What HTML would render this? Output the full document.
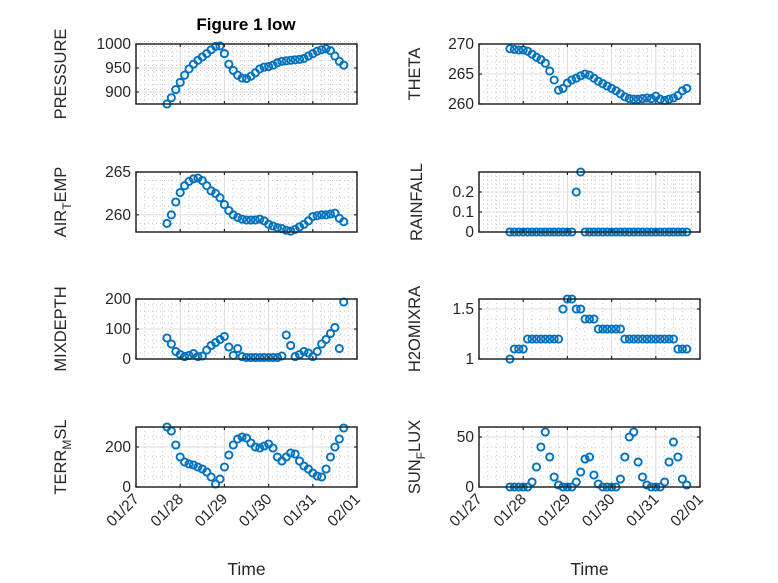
<!DOCTYPE html>
<html><head><meta charset="utf-8"><style>
html,body{margin:0;padding:0;background:#fff;}
svg{display:block;font-family:"Liberation Sans","DejaVu Sans",sans-serif;}
</style></head><body>
<svg id="fig" width="778" height="583" viewBox="0 0 778 583" xmlns="http://www.w3.org/2000/svg">
<rect width="778" height="583" fill="#fff"/>
<text x="246" y="30" font-size="17" font-weight="bold" text-anchor="middle" fill="#000">Figure 1 low</text>
</svg>
<script>
const times=[27.7,27.8,27.9,28.0,28.1,28.2,28.3,28.4,28.5,28.6,28.7,28.8,28.9,29.0,29.1,29.2,29.3,29.4,29.5,29.6,29.7,29.8,29.9,30.0,30.1,30.2,30.3,30.4,30.5,30.6,30.7,30.8,30.9,31.0,31.1,31.2,31.3,31.4,31.5,31.6,31.7];
const xTickLabels=["01/27","01/28","01/29","01/30","01/31","02/01"];
const xTickValues=[27,28,29,30,31,32];
const pressure=[875,888,905,920,935,948,958,966,973,980,988,995,996,980,958,945,935,929,928,933,940,948,952,953,956,961,964,965,966,967,968,970,975,980,985,988,990,986,975,964,956];
const theta=[269.2,269.1,269,269,268.8,268.3,267.8,267.4,266.8,265.5,264,262.3,262.6,263.5,264,264.3,264.7,265,264.8,264.3,263.8,263.4,263,262.6,262.2,261.7,261.2,260.9,260.8,260.8,260.9,261,260.9,261.3,260.8,260.6,260.8,261,261.4,262.2,262.6];
const airTemp=[259,260,261.5,262.6,263.4,263.9,264.2,264.3,264,263.4,262.8,262.5,262,261.2,260.5,260,259.7,259.5,259.4,259.4,259.4,259.5,259.3,258.9,258.7,258.5,258.4,258.2,258.1,258.3,258.6,258.9,259.3,259.8,259.9,260,260,260.1,260.2,259.6,259.2];
const rainfall=[0,0,0,0,0,0,0,0,0,0,0,0,0,0,0,0.2,0.3,0,0,0,0,0,0,0,0,0,0,0,0,0,0,0,0,0,0,0,0,0,0,0,0];
const mixDepth=[70,50,25,15,8,12,18,8,10,30,45,55,65,75,40,12,35,8,5,5,5,5,5,5,5,5,10,80,45,8,15,25,20,8,25,50,65,85,105,35,190];
const h2o=[1.0,1.1,1.1,1.1,1.2,1.2,1.2,1.2,1.2,1.2,1.2,1.2,1.5,1.6,1.6,1.5,1.5,1.4,1.4,1.4,1.3,1.3,1.3,1.3,1.3,1.3,1.2,1.2,1.2,1.2,1.2,1.2,1.2,1.2,1.2,1.2,1.2,1.2,1.1,1.1,1.1];
const terrain=[300,280,210,150,125,115,110,100,90,75,50,15,40,100,160,210,240,250,245,220,200,195,205,215,195,150,130,150,170,165,130,105,90,70,55,50,90,150,200,240,295];
const sunFlux=[0,0,0,0,0,5,20,40,55,30,10,2,0,0,0,5,15,28,30,12,3,0,0,0,0,8,30,50,55,25,10,2,0,0,0,5,25,45,30,8,2];

const NS="http://www.w3.org/2000/svg";
const svg=document.getElementById('fig');
function mk(tag,attrs,parent){const e=document.createElementNS(NS,tag);for(const k in attrs)e.setAttribute(k,attrs[k]);(parent||svg).appendChild(e);return e;}

const panels=[
 {name:'pressure',data:pressure,x:136,y:44,ymin:875,ymax:1000,ticks:[900,950,1000],minor:10,label:['PRESSURE'],showX:false,lo:70},
 {name:'theta',data:theta,x:479,y:44,ymin:260,ymax:270,ticks:[260,265,270],minor:1,label:['THETA'],showX:false,lo:59},
 {name:'air-temp',data:airTemp,x:136,y:172,ymin:258,ymax:265,ticks:[260,265],minor:1,label:['AIR','T','EMP'],showX:false,lo:70},
 {name:'rainfall',data:rainfall,x:479,y:172,ymin:0,ymax:0.3,ticks:[0,0.1,0.2],minor:0.02,label:['RAINFALL'],showX:false,lo:57},
 {name:'mixdepth',data:mixDepth,x:136,y:299,ymin:0,ymax:200,ticks:[0,100,200],minor:20,label:['MIXDEPTH'],showX:false,lo:70},
 {name:'h2omixra',data:h2o,x:479,y:299,ymin:1,ymax:1.6,ticks:[1,1.5],minor:0.1,label:['H2OMIXRA'],showX:false,lo:59},
 {name:'terr-msl',data:terrain,x:136,y:427,ymin:0,ymax:300,ticks:[0,200],minor:50,label:['TERR','M','SL'],showX:true,lo:70},
 {name:'sun-flux',data:sunFlux,x:479,y:427,ymin:0,ymax:60,ticks:[0,50],minor:10,label:['SUN','F','LUX'],showX:true,lo:59}
];
const W=221,H=60;

panels.forEach(p=>{
 const g=mk('g',{});
 
 
 const xs=v=>p.x+(v-27)/5*W;
 const ys=v=>p.y+H-(v-p.ymin)/(p.ymax-p.ymin)*H;
 for(let d=27;d<=32.001;d+=0.2){const X=xs(d);mk('line',{x1:X,x2:X,y1:p.y,y2:p.y+H,stroke:'#bbb','stroke-width':0.8,'stroke-dasharray':'1 3'},g);}
 const nm=Math.round((p.ymax-p.ymin)/p.minor);
 for(let i=0;i<=nm;i++){const Y=ys(p.ymin+i*p.minor);mk('line',{x1:p.x,x2:p.x+W,y1:Y,y2:Y,stroke:'#bbb','stroke-width':0.8,'stroke-dasharray':'1 3'},g);}
 xTickValues.forEach(v=>{const X=xs(v);mk('line',{x1:X,x2:X,y1:p.y,y2:p.y+H,stroke:'#dcdcdc','stroke-width':1},g);});
 p.ticks.forEach(v=>{const Y=ys(v);mk('line',{x1:p.x,x2:p.x+W,y1:Y,y2:Y,stroke:'#dcdcdc','stroke-width':1},g);});
 p.data.forEach((v,i)=>{
  const c=mk('circle',{cx:xs(times[i]),cy:ys(v),r:3.6,fill:'none',stroke:'#0072BD','stroke-width':1.9},g);
  
  
 });
 const b=mk('rect',{x:p.x,y:p.y,width:W,height:H,fill:'none',stroke:'#262626','stroke-width':1.5},g);
 
 
 xTickValues.forEach((v,i)=>{
  const X=xs(v);
  mk('line',{x1:X,x2:X,y1:p.y+H,y2:p.y+H-3,stroke:'#262626','stroke-width':1.2},g);
  mk('line',{x1:X,x2:X,y1:p.y,y2:p.y+3,stroke:'#262626','stroke-width':1.2},g);
  if(p.showX){
   const t=mk('text',{x:X+4,y:p.y+H+13,'font-size':15.5,fill:'#262626','text-anchor':'end',transform:`rotate(-45 ${X+4} ${p.y+H+13})`},g);
   t.textContent=xTickLabels[i];
   
   
  }
 });
 p.ticks.forEach(v=>{
  const Y=ys(v);
  mk('line',{x1:p.x,x2:p.x+3,y1:Y,y2:Y,stroke:'#262626','stroke-width':1.2},g);
  mk('line',{x1:p.x+W,x2:p.x+W-3,y1:Y,y2:Y,stroke:'#262626','stroke-width':1.2},g);
  const t=mk('text',{x:p.x-5,y:Y+5,'font-size':15.5,fill:'#262626','text-anchor':'end'},g);
  t.textContent=String(v);
  
  
 });
 const lx=p.x-p.lo, ly=p.y+H/2;
 const yl=mk('text',{x:lx,y:ly,'font-size':16.5,fill:'#262626','text-anchor':'middle',transform:`rotate(-90 ${lx} ${ly})`},g);
 
 
 if(p.label.length===1){yl.textContent=p.label[0];}
 else{
  const a=mk('tspan',{},yl);a.textContent=p.label[0];
  const s=mk('tspan',{dy:5,'font-size':12},yl);s.textContent=p.label[1];
  const r=mk('tspan',{dy:-5},yl);r.textContent=p.label[2];
 }
 if(p.showX){
  const tl=mk('text',{x:p.x+W/2,y:575,'font-size':17.5,fill:'#262626','text-anchor':'middle'},g);
  tl.textContent='Time';
  
  
 }
});
</script>
</body></html>
